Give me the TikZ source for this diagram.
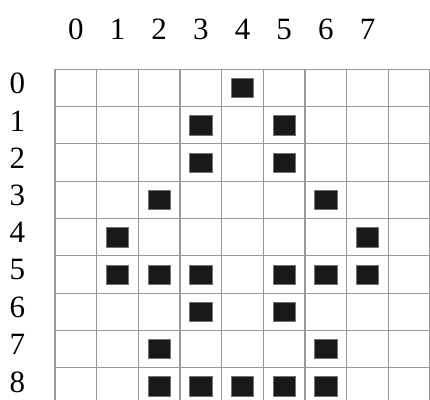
\documentclass[tikz,border=0pt]{standalone}
\usepackage{fontspec}
\setmainfont{Liberation Serif}
\usepackage{tikz}

\begin{document}
\begin{tikzpicture}[x=1pt, y=-1pt,
    gridline/.style={draw=gray!80, line width=1.1pt},
    lbl/.style={inner sep=0pt, font=\fontsize{31}{33}\selectfont},
    blk/.style={draw=black!55, line width=0.6pt, fill=black!90, minimum width=22.5pt, minimum height=19.3pt, inner sep=0pt}]
    \useasboundingbox (0,0) rectangle (430,399);
    \fill[white] (0,0) rectangle (430,399);
    \begin{scope}[shift={(55,69.3)}, x=41.67pt, y=-37.3pt]
        % grid lines
        \foreach \i in {0,...,9} {
            \draw[gridline] (\i,0) -- (\i,9.2);
        }
        \foreach \j in {0,...,9} {
            \draw[gridline] (0,\j) -- (9.2,\j);
        }
        % column and row numbers
        \foreach \c in {0,...,7} {
            \node[lbl] (col\c) at (\c+0.5,-1.08) {\c};
        }
        \foreach \r in {0,...,8} {
            \node[lbl] (row\r) at (-0.9,\r+0.38) {\r};
        }
        % filled cells (column/row)
        \foreach \c/\r in {4/0, 3/1, 5/1, 3/2, 5/2, 2/3, 6/3, 1/4, 7/4,
                           1/5, 2/5, 3/5, 5/5, 6/5, 7/5, 3/6, 5/6, 2/7, 6/7,
                           2/8, 3/8, 4/8, 5/8, 6/8} {
            \node[blk] (b\c-\r) at (\c+0.5,\r+0.5) {};
        }
    \end{scope}
\end{tikzpicture}
\end{document}
